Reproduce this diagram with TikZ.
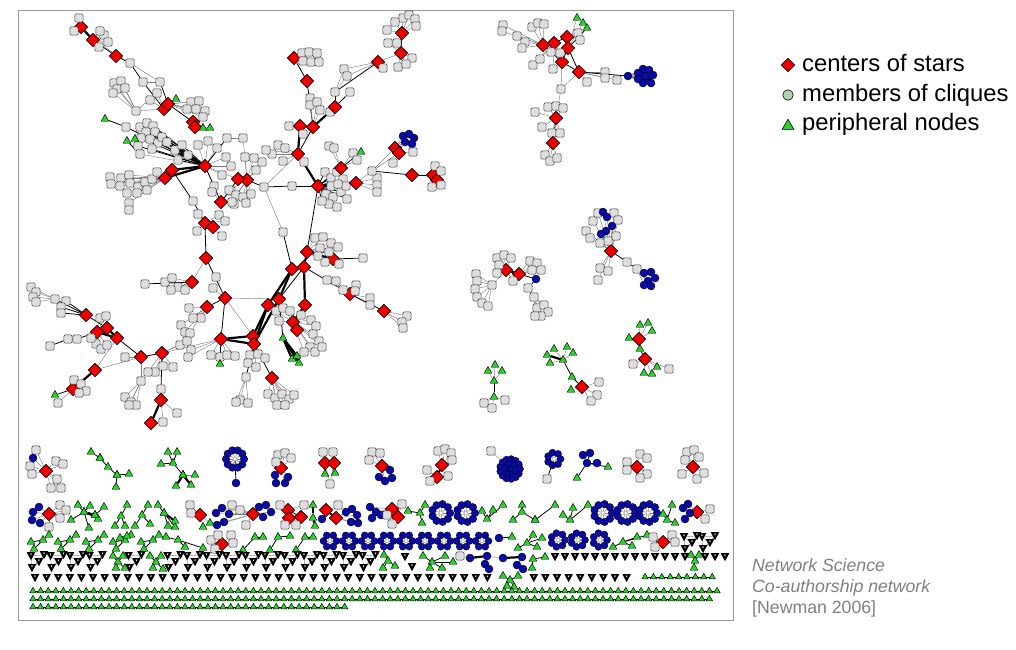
\documentclass[tikz,border=0pt]{standalone}
\usepackage{fontspec}
\setmainfont{Liberation Sans}
\usetikzlibrary{shapes.geometric,calc}
\pgfdeclarelayer{bg}\pgfsetlayers{bg,main}
\definecolor{nred}{RGB}{240,0,0}
\definecolor{nblue}{RGB}{10,10,170}
\definecolor{ngreen}{RGB}{40,210,40}
\definecolor{ngray}{RGB}{222,222,222}
\definecolor{lgreen}{RGB}{176,212,176}
\definecolor{capgray}{RGB}{128,128,128}
\newcounter{vc}
\tikzset{
 sq/.style={rectangle,rounded corners=1.3pt,draw=black!75,fill=ngray,line width=0.55pt,minimum size=8.2pt,inner sep=0},
 dia/.style={diamond,draw=black,fill=nred,line width=0.55pt,minimum size=13.5pt,inner sep=0},
 cl/.style={circle,draw=black,fill=nblue,line width=0.4pt,minimum size=8pt,inner sep=0},
 tri/.style={regular polygon,regular polygon sides=3,draw=black,fill=ngreen,line width=0.45pt,minimum size=9pt,inner sep=0},
 stri/.style={tri,minimum size=7.4pt},
 ge/.style={draw=black!50,line width=0.45pt},
 be/.style={draw=black,line width=0.8pt},
 te/.style={draw=black,line width=2.2pt},
}
\newcommand\edgelist{}
\newcommand\AddE[3]{\xdef\edgelist{\unexpanded\expandafter{\edgelist}\noexpand\draw[#1] (#2) -- (#3);}}
\newcommand\Nd[4][sq]{\node[#1] (#2) at (#3,#4) {};}
\newcommand\Hub[3]{\node[dia] (#1) at (#2,#3) {};}
\newcommand\Ed[3][be]{\AddE{#1}{#2}{#3}}
\newcommand\Fx[4]{\foreach \px/\py in {#4}{\stepcounter{vc}\node[#1] (v\arabic{vc}) at (\px,\py) {};\AddE{#2}{#3}{v\arabic{vc}}}}
\newcommand\Fl[3][sq]{\Fx{#1}{ge}{#2}{#3}}
\newcommand\Fb[3][sq]{\Fx{#1}{be}{#2}{#3}}
\newcommand\Ft[3][sq]{\Fx{#1}{te}{#2}{#3}}
\newcommand\Sg[3][tri]{\foreach \px/\py [count=\k] in {#3}{\stepcounter{vc}\node[#1] (v\arabic{vc}) at (\px,\py) {};\ifnum\k=1 \xdef\hubn{v\arabic{vc}}\else\AddE{#2}{\hubn}{v\arabic{vc}}\fi}}
\newcommand\Rng[6]{\node[circle,draw=black!45,fill=white,minimum size=4pt,inner sep=0] (#1) at (#2,#3) {};
 \foreach \k in {1,...,#4}{\stepcounter{vc}\node[cl,minimum size=#6pt] (v\arabic{vc}) at ($(#1)+({360/#4*\k}:#5)$) {};\AddE{ge}{#1}{v\arabic{vc}}}}
\newcommand\Dsk[3]{\coordinate (#1) at (#2,#3);
 \foreach \k in {1,...,13}{\stepcounter{vc}\node[cl,minimum size=7pt] (v\arabic{vc}) at ($(#1)+({360/13*\k}:10)$) {};}
 \foreach \k in {1,...,6}{\stepcounter{vc}\node[cl,minimum size=7pt] (v\arabic{vc}) at ($(#1)+({360/6*\k+15}:4.8)$) {};}
 \node[cl,minimum size=6pt] (#1c) at (#1) {};}
\newcommand\Vgl[2]{\fill (#1-4.3,#2-3.9) -- (#1+4.3,#2-3.9) -- (#1,#2+4.2) -- cycle;
 \fill[white] (#1-0.9,#2-2.4) -- (#1+0.9,#2-2.4) -- (#1,#2-0.7) -- cycle;}
\newcommand\Vcl[2]{\draw[black!55,line width=0.35pt] (#1,#2) -- (#1+8,#2+6) -- (#1+1,#2+12) (#1+13,#2-1) -- (#1+8,#2+6) (#1,#2) -- (#1+13,#2-1) -- (#1+1,#2+12) (#1,#2) -- (#1+1,#2+12);
 \Vgl{#1}{#2}\Vgl{#1+13}{#2-1}\Vgl{#1+8}{#2+6}\Vgl{#1+1}{#2+12}}
\newcommand\TGr[2]{\Sg[tri]{be}{#1+12/#2, #1/#2+2, #1+3/#2+9, #1+18/#2-5}}
\newcommand\lgfont{\fontsize{23.8}{28}\selectfont}
\newcommand\capfont{\fontsize{17.7}{21}\selectfont}
\begin{document}
\begin{tikzpicture}[x=1pt,y=-1pt]
\useasboundingbox (0,0) rectangle (1016,649);
\draw[black!40,line width=1pt] (18,10) rectangle (733,620);
% ---------------- legend and caption
\node[dia,minimum size=13.5pt] (L1) at (788,65) {};
\node[circle,draw=black,fill=lgreen,minimum size=10.5pt,inner sep=0,line width=0.6pt] (L2) at (788,95) {};
\node[tri,minimum size=13.5pt,line width=0.6pt] (L3) at (788,126) {};
\node[anchor=base west,font=\lgfont,inner sep=0] (L1t) at (802,71) {centers of stars};
\node[anchor=base west,font=\lgfont,inner sep=0] (L2t) at (802,101) {members of cliques};
\node[anchor=base west,font=\lgfont,inner sep=0] (L3t) at (802,130) {peripheral nodes};
\node[anchor=base west,font=\capfont\itshape,text=capgray,inner sep=0] (C1t) at (752,571) {Network Science};
\node[anchor=base west,font=\capfont\itshape,text=capgray,inner sep=0] (C2t) at (752,592) {Co-authorship network};
\node[anchor=base west,font=\capfont,text=capgray,inner sep=0] (C3t) at (752,613) {[Newman 2006]};
% ---------------- main component: upper left
\Hub{A1}{81}{27}\Hub{A2}{93}{40}\Hub{A3}{116}{56}
\Fl{A1}{79/18,74/31}
\Fl{A2}{99/47,104/35,108/42,100/31}
\Nd{P1}{130}{63}\Nd{P2}{143}{82}\Nd{P3}{160}{82}\Nd{P4}{157}{93}\Nd{P5}{150}{100}
\Ed[te]{A1}{A2}\Ed{A2}{A3}\Ed{A3}{P1}\Ed[ge]{A2}{P1}\Ed{P1}{P2}\Ed[ge]{P1}{P3}\Ed[ge]{P2}{P3}
\Hub{A4}{164}{109}\Hub{A4b}{168}{104}
\Ed{P2}{A4}\Ed{P3}{A4b}\Ed[ge]{P4}{A4}\Ed[ge]{P5}{A4}
\Nd[tri]{T1}{176}{99}\Ed{A4b}{T1}
\Hub{A5}{193}{122}\Hub{A5b}{195}{127}
\Ed{A4b}{A5}\Ed[te]{A5}{A5b}
\Fl{A4b}{191/102,199/101,196/109,205/111,187/109,203/117}
\Nd[tri]{T2}{203}{128}\Nd[tri]{T3}{210}{128}\Ed{A5b}{T2}\Ed[ge]{A5b}{T3}
\Nd{H1}{136}{111}\Fl{H1}{114/83,121/81,117/89,125/88,113/93}\Ed[ge]{H1}{A4}\Ed[ge]{H1}{P4}
\Nd[tri]{T4}{105}{119}\Nd{H2}{126}{127}\Ed{T4}{H2}
\Hub{A6}{205}{166}
\Fb{A6}{140/127,147/123,153/126,146/132,155/132,141/138,150/139,158/143,138/146,152/149,162/137,167/142,175/150,182/145,188/155,178/160}
\Ed{H2}{A6}
\Nd[tri]{T5}{127}{141}\Nd[tri]{T6}{135}{139}\Nd{H3}{140}{154}\Ed{T5}{H3}\Ed{T6}{H3}\Ed[ge]{H3}{A6}
\Hub{A7}{172}{170}\Hub{A8}{165}{178}
\Ed[te]{A7}{A6}\Ed[te]{A8}{A6}\Ed[te]{A8}{A7}
\Fl{A8}{110/177,111/184,121/178,120/186,129/175,130/183,138/187,145/182,152/179,157/172,127/193,137/193,147/190}
\Nd{P6}{129}{203}\Nd{P7}{129}{210}\Ed[ge]{A8}{P6}\Ed{P6}{P7}
\Fl{A6}{198/145,208/141,217/148,226/157,231/166,222/175,214/186}
\Hub{A9}{221}{202}\Ed{A6}{A9}\Fl{A9}{212/192,231/191,234/204}
\Nd{Q1}{193}{201}\Hub{A10}{205}{223}\Hub{A10b}{213}{227}
\Ed{A7}{Q1}\Ed{Q1}{A10}\Ed[te]{A10}{A10b}
\Fl{A10}{198/214,219/215,225/221,222/236,197/231}
\Nd{Q3}{227}{138}\Nd{Q4}{243}{138}\Ed{A6}{Q3}\Ed[ge]{Q3}{Q4}
% ---------------- main component: upper centre
\Hub{B10}{247}{180}\Hub{B10b}{238}{179}
\Ed[te]{B10}{B10b}\Ed{A9}{B10b}\Ed[ge]{A6}{B10b}\Ed[ge]{Q4}{B10}
\Fl{B10}{229/190,236/195,243/197,251/194,232/202,246/203,256/170,262/162,254/158,245/157}
\Nd{J}{264}{187}\Nd{J2}{292}{186}
\Ed{B10}{J}\Ed{J}{J2}
\Hub{B9}{298}{154}\Hub{B8}{300}{126}\Hub{B7}{313}{127}
\Fl{B9}{278/145,272/154,285/148,304/162,283/161,266/150}
\Ed[ge]{J}{B9}
\Hub{B11}{318}{186}
\Ed{J2}{B11}\Ed[te]{B9}{B11}\Ed[te]{B8}{B9}\Ed{B7}{B9}\Ed[te]{B7}{B8}
\Fl{B8}{289/126,303/134}
\Fb{B11}{325/172,331/178,337/172,343/179,326/194,333/197,341/192,347/199,329/204,337/207,322/201,346/186}
\Ft{B11}{331/186,338/184}
\Hub{B12}{341}{168}\Ed{B11}{B12}\Nd[tri]{T7}{361}{152}\Ed{B12}{T7}\Fl{B12}{353/153,357/160,329/146,334/148}
\Hub{B13}{356}{183}\Ed[te]{B11}{B13}\Fl{B13}{377/178,377/185,377/192}
\Nd{S1}{372}{171}\Ed[ge]{B13}{S1}\Hub{B14}{412}{175}\Ed{S1}{B14}
\Hub{B15}{433}{175}\Hub{B15b}{437}{180}\Ed{B14}{B15}\Ed[te]{B15}{B15b}
\Fl{B15}{435/166,441/171,441/185,432/187}
\Hub{B16}{395}{148}\Hub{B16b}{399}{153}\Ed[te]{B16}{B16b}
\Fl[cl]{B16}{403/136,409/134,414/138,412/144,405/142}\Fl{B16b}{413/152,393/163}
\Ed[ge]{S1}{B16}\Ed[ge]{S1}{B16b}
\Hub{B4}{294}{58}\Fl{B4}{302/53,309/52,317/53,303/61,311/62,319/62}
\Hub{B5}{307}{81}\Ed{B4}{B5}\Ed{B5}{B7}
\Fl{B7}{310/98,310/105,317/102,320/110,330/112}
\Hub{B6}{335}{107}\Ed[te]{B7}{B6}\Nd{R3}{335}{92}\Nd{R4}{350}{92}\Ed{B6}{R3}\Ed{B6}{R4}
\Nd{R5}{344}{69}\Nd{R6}{347}{76}
\Hub{B3}{378}{62}\Ed[ge]{R3}{R5}\Ed[ge]{R3}{R6}\Ed[ge]{R5}{B3}\Ed[ge]{R6}{B3}\Ed{R3}{B3}
\Fl{B3}{383/68}
\Hub{B2}{401}{53}\Hub{B1}{402}{33}\Ed{B1}{B2}\Ed[ge]{B3}{B2}
\Fl{B2}{388/43,397/43,398/67,412/58,406/64}
\Fl{B1}{387/30,403/18,409/15,415/19,416/26,395/22}
% ---------------- main component: lower right
\Nd{Q5}{283}{232}\Ed[ge]{J}{Q5}
\Hub{D1}{307}{252}\Hub{D2}{292}{269}\Hub{D3}{304}{267}\Hub{D4}{333}{259}
\Ed{B11}{D1}\Ed{Q5}{D2}\Ed[te]{D1}{D3}\Ed[te]{D1}{D4}\Ed{D2}{D3}
\Fl{D1}{315/238,323/237,331/243,338/247,320/248,329/252,339/264,325/262,318/256}
\Nd{D4a}{363}{258}\Ed{D4}{D4a}
\Hub{D7}{268}{305}\Hub{D8}{279}{299}\Hub{D9}{305}{305}\Hub{D10}{293}{322}\Hub{D11}{297}{330}
\Ed[te]{D2}{D7}\Ed[te]{D2}{D8}\Ed[te]{D3}{D9}\Ed[te]{D9}{D10}\Ed[te]{D10}{D11}\Ed{D3}{D8}
\Fl{D10}{276/311,283/308,290/311,279/321,301/315,311/320,316/326,313/334,319/341,310/347,304/352,315/352,322/347}
\Hub{D5}{350}{294}\Ed{D3}{D5}\Fl{D5}{327/280,336/281,343/290,356/285,355/291,370/298,370/305}
\Hub{D6}{384}{311}\Ed{D5}{D6}\Fl{D6}{407/316,402/322,403/328}
\Hub{D12}{253}{336}\Hub{D13}{254}{344}
\Ed[te]{D7}{D12}\Ed[te]{D8}{D13}\Ed[te]{D7}{D13}
\Fl{D13}{250/355,258/354,265/358,248/363,256/367}
\Nd[tri]{T8}{283}{338}\Ed{D8}{T8}\Ft[tri]{T8}{292/359,297/356,299/363}
\Nd{Q6}{246}{377}\Ed{D13}{Q6}\Fl{Q6}{240/400,248/403,236/402}
\Hub{D14}{272}{378}\Ed{D13}{D14}\Fl{D14}{268/394,275/398,282/394,289/399,294/395,277/405,285/405}
% ---------------- main component: lower left
\Hub{C1}{206}{258}\Ed{A10}{C1}
\Hub{C2}{192}{282}\Hub{C3}{225}{298}\Hub{C4}{207}{307}
\Ed{C1}{C3}\Ed[ge]{C1}{C2}\Ed{C3}{C4}
\Fl{C2}{165/282,172/278,178/287,185/290,171/290}
\Nd{C2a}{145}{284}\Ed{C2a}{C2}
\Fl{C4}{189/308,201/318,193/318,181/325,185/332,190/333}
\Fl{C3}{213/288,216/277}
\Hub{C5}{221}{339}\Ed{C3}{C5}\Ed[ge]{C3}{D12}\Ed[ge]{C3}{D8}
\Ed[te]{C5}{D13}\Ed[te]{C5}{D12}
\Fl{C5}{211/355,220/357,227/355,235/356,191/350,188/357}
\Nd[tri]{T9}{220}{364}\Ed{C5}{T9}
\Hub{C6}{162}{353}\Hub{C7}{141}{357}\Ed[ge]{C5}{C6}\Ed{C6}{C7}
\Fl{C6}{173/367,163/366,155/372,148/372,180/345,187/341}
\Nd{C6a}{161}{389}\Ed{C6}{C6a}
\Hub{C14}{161}{400}\Hub{C15}{151}{423}\Ed{C6a}{C14}\Ed[te]{C14}{C15}\Fl{C14}{177/413,163/422}
\Hub{C8}{117}{338}\Hub{C9}{107}{328}\Hub{C10}{97}{332}
\Ed{C7}{C8}\Ed[te]{C9}{C8}\Ed[te]{C10}{C8}
\Fl{C10}{100/318,106/316,96/344,101/349,91/338,107/345}
\Hub{C11}{86}{315}\Ed{C11}{C9}
\Nd{C11a}{55}{299}\Fb{C11}{66/301,61/307,61/313}\Ed{C11}{C11a}
\Fl{C11a}{31/287,36/292,33/297,36/302}
\Nd{C10a}{77}{339}\Nd{C10b}{68}{339}\Nd{C10c}{50}{346}\Ed{C10}{C10a}\Ed[ge]{C10a}{C10b}\Ed{C10b}{C10c}
\Hub{C12}{95}{370}\Ed[ge]{C12}{C8}\Ed[ge]{C12}{C7}
\Hub{C13}{73}{389}\Ed[te]{C12}{C13}\Fb{C13}{74/380,81/384,86/391,79/393}
\Nd[tri]{T10}{55}{395}\Ed{C13}{T10}\Nd{C13a}{58}{403}\Ed[ge]{C13}{C13a}
\Nd{C7a}{141}{381}\Ed[ge]{C7}{C7a}\Fl{C7a}{125/397,131/402,136/405,129/405}
\Nd{C7b}{125}{357}\Ed[ge]{C7}{C7b}
% ---------------- top right component
\Hub{K1}{543}{45}\Hub{K4}{554}{43}\Hub{K2}{567}{37}\Hub{K3}{568}{48}\Hub{K5}{562}{62}\Hub{K6}{579}{72}
\Ed[te]{K1}{K4}\Ed{K4}{K2}\Ed{K2}{K3}\Ed{K3}{K5}\Ed{K5}{K6}\Ed{K1}{K5}\Ed{K3}{K6}
\Nd[tri]{KT1}{577}{18}\Nd[tri]{KT2}{583}{23}\Nd[tri]{KT3}{587}{28}\Ed[ge]{K3}{KT1}\Ed[ge]{K3}{KT2}\Ed{K3}{KT3}
\Fl{K1}{503/25,502/31,517/36,525/42,522/48,532/27,538/23,544/24}
\Fl{K4}{533/65,540/59,553/69,560/53,551/52}
\Fl{K2}{578/33,580/40}
\Fl{K6}{605/72,605/78,617/80,587/82}
\Nd[cl]{KB}{628}{76}\Ed{K6}{KB}
\Fl[cl]{KB}{638/73,643/69,649/70,653/75,648/80,643/83,638/79,645/76,651/83}
\Nd{K7}{561}{89}\Ed[ge]{K5}{K7}\Ed[ge]{K6}{K7}
\Hub{K8}{556}{118}\Ed[ge]{K7}{K8}\Fl{K8}{535/112,548/107,556/106,563/108,542/127,552/133,560/133}
\Hub{K9}{553}{143}\Ed{K8}{K9}\Fl{K9}{545/155,550/161,557/158}
% ---------------- right middle components
\Hub{M1}{506}{270}\Hub{M2}{519}{274}\Ed[te]{M1}{M2}
\Fl{M1}{497/258,504/255,511/258,499/265,497/273,513/281}
\Fl{M2}{530/261,537/263,541/270,532/270}
\Nd[cl]{MB}{536}{279}\Ed{M2}{MB}
\Nd{M3}{492}{285}\Ed[ge]{M1}{M3}\Fl{M3}{476/274,477/281,475/289,477/297,482/303,488/306}
\Nd{M4}{528}{288}\Nd{M5}{534}{297}\Ed{MB}{M4}\Ed{M4}{M5}
\Fl{M5}{537/308,544/305,548/312,541/316,535/316}
\Hub{N1}{611}{251}
\Fl{N1}{586/231,590/238,593/221,598/213,614/213,618/220,616/236,608/241,600/243}
\Fl[cl]{N1}{603/212,607/217,612/226,606/231,601/234}
\Fl{N1}{600/268,608/271,598/280}
\Nd{N2}{627}{262}\Nd{N3}{637}{269}\Ed{N1}{N2}\Ed{N2}{N3}
\Fl[cl]{N3}{644/273,651/272,655/278,648/281,644/285,651/286}
\Nd[tri]{O1}{494}{381}\Fl[tri]{O1}{488/371,495/365,502/371}\Nd[tri]{O2}{494}{397}\Ed{O1}{O2}
\Fl{O2}{484/403,492/408,505/400}
\Nd[tri]{U1}{563}{360}\Fl[tri]{U1}{554/349,550/363,567/347,573/353}\Nd[tri]{U0}{547}{355}\Ed[te]{U1}{U0}
\Nd[tri]{U2}{572}{377}\Ed{U1}{U2}\Hub{U3}{582}{387}\Ed{U2}{U3}
\Fl[tri]{U3}{571/390}\Fl{U3}{599/382,597/395,591/401}
\Hub{V1}{639}{339}\Fl[tri]{V1}{640/325,648/323,652/331,629/338}\Nd[tri]{Vt}{640}{349}
\Hub{V2}{645}{359}\Ed{V1}{Vt}\Ed{Vt}{V2}\Fl{V2}{633/364,669/369}\Fl[tri]{V2}{657/367,644/373,652/374}
% ---------------- row 1
\Hub{E1}{46}{471}\Fl{E1}{36/450,30/466,32/474,56/461,63/464,57/479,51/488,61/488}\Fl[cl]{E1}{33/458}
\Sg[tri]{be}{108/467,100/458,117/475}\Sg[tri]{be}{100/458,91/452}\Sg[tri]{be}{117/475,129/474,116/487}
\Sg[tri]{be}{173/463,168/452,177/452,161/464,183/475}\Sg[tri]{te}{183/475,176/486,191/485}\Sg[tri]{ge}{183/475,195/475}
\Rng{E3}{235}{459}{10}{9}{7.5}\Nd[cl]{E3s}{236}{483}\Ed{E3}{E3s}
\Hub{E4}{281}{468}\Fl{E4}{278/455,285/453,291/458,276/462}\Fl[cl]{E4}{275/475,276/483,285/483,288/477}
\Hub{E5}{325}{463}\Hub{E5b}{334}{463}\Fl{E5}{323/452}\Fl{E5b}{333/452}\Fl[tri]{E5}{325/474}\Fl[tri]{E5b}{335/473}
\Nd{E5c}{330}{484}\Ed[ge]{E5c}{E5}\Ed[ge]{E5c}{E5b}
\Hub{E6}{382}{466}\Fl{E6}{372/452,380/453,369/460}\Fl[cl]{E6}{390/470,392/478,385/481,379/477}
\Hub{E7}{442}{465}\Hub{E7b}{437}{477}\Ed[te]{E7}{E7b}\Fl{E7}{438/451,445/449,451/453,452/460}\Fl{E7b}{427/470,430/481,448/476}
\Dsk{E8}{510}{469}\Nd{E8a}{491}{451}\Ed[ge]{E8}{E8a}
\Rng{E9}{554}{459}{7}{6.5}{7}\Nd{E9a}{547}{479}\Ed{E9}{E9a}
\Nd[cl]{E10}{587}{463}\Fb[cl]{E10}{583/455,590/453,597/463}\Nd[tri]{E10t}{608}{467}\Nd[tri]{E10u}{577}{478}\Ed{E10}{E10t}\Ed{E10}{E10u}
\Hub{E11}{637}{467}\Fl{E11}{640/454,647/458,627/462,627/470,647/474,640/478}
\Hub{E12}{693}{467}\Fl{E12}{687/452,694/450,699/457,685/460,682/474,697/479,704/473}
% ---------------- row 2
\Hub{F1}{49}{514}\Fl[cl]{F1}{33/512,39/507,32/520,40/523}\Fl{F1}{60/505,66/510,60/518,49/527}
\Sg[tri]{be}{84/512,71/520,78/505,90/506,98/519,89/528}\Sg[tri]{te}{84/512,95/515}\Sg[tri]{be}{95/515,104/507}
\Sg[tri]{be}{121/516,115/526,127/505,125/526}
\Sg[tri]{be}{142/515,135/526,148/505,150/524}
\Sg[tri]{be}{164/513,158/505,168/526,175/527}\Sg[tri]{te}{164/513,175/521}
\Hub{F2}{200}{515}\Fl{F2}{190/505,191/513}\Fl[tri]{F2}{203/527,210/523}
\Hub{F3}{253}{514}\Fl[cl]{F3}{216/513,222/508,229/514,224/522,217/525}\Fl{F3}{232/505,246/525,240/510}\Fl[cl]{F3}{259/507,266/505,271/512,263/517}
\Hub{F4}{288}{510}\Hub{F4b}{289}{518}\Hub{F4c}{301}{517}\Ed{F4}{F4c}\Ed[te]{F4}{F4b}
\Fl{F4}{280/505,304/505}\Fl{F4b}{285/525,296/525}
\Sg[tri]{te}{313/518,313/505,315/526}
\Hub{F5}{326}{510}\Hub{F5b}{336}{518}\Ed[te]{F5}{F5b}\Fl{F5b}{338/505}\Fl[cl]{F5}{322/519}\Fl[cl]{F5b}{346/512,352/509,357/515,351/522,358/523}
\Hub{F6}{392}{509}\Hub{F6b}{398}{517}\Ed[te]{F6}{F6b}\Fl[cl]{F6}{370/507,376/512,372/518,381/515}\Fl{F6b}{402/504,387/515,392/524}
\Sg[tri]{be}{420/513,408/511,425/505,422/523}
\Rng{F7}{441}{513}{9}{9}{7.5}\Rng{F8}{466}{513}{9}{9}{7.5}
\Sg[tri]{be}{487/519,482/511,493/510,503/505}
\Sg[tri]{be}{522/512,513/520,522/505,535/520}\Sg[tri]{be}{535/520,555/505}
\Sg[tri]{be}{570/520,563/515,573/508,588/505}
\Rng{F9}{603}{513}{9}{9}{7.5}\Rng{F10}{626}{513}{9}{9}{7.5}\Rng{F11}{648}{513}{9}{9}{7.5}
\Sg[tri]{be}{667/520,663/514,672/505,675/523}
\Hub{F12}{697}{512}\Fl[cl]{F12}{683/508,688/504,690/513,685/519}\Fl{F12}{710/509,705/519}
% ---------------- row 3
\foreach \xx in {31,58,86,113,141}{\TGr{\xx}{540}}
\Sg[tri]{be}{178/540,166/537,185/547,203/548}\Sg[tri]{te}{120/538,127/536}
\Hub{H1r}{222}{544}\Fl{H1r}{211/540,218/535,231/535,233/543,215/549}
\Sg[tri]{be}{255/537,243/550,263/537}\Sg[tri]{be}{278/537,270/550,290/536}\Sg[tri]{be}{305/537,296/550,313/537}
\foreach \xx [count=\j] in {330,349,368,387,406,425,444,463,482}{\Rng{bf\j}{\xx}{541}{6}{6.5}{7}}
\Nd[cl]{BF}{499}{538}\Nd[tri]{BFt}{512}{537}\Ed{BF}{BFt}
\Sg[tri]{be}{527/543,518/548,533/535,537/547,542/538}
\Rng{H2r}{558}{540}{7}{7}{7}\Rng{H3r}{578}{540}{7}{7}{7}\Rng{H4r}{600}{540}{7}{7}{7}
\Sg[tri]{be}{623/542,613/547,632/546,637/537,647/535}
\Hub{H5r}{663}{542}\Fl{H5r}{653/537,655/547,672/535,675/542}
\Vcl{684}{537}\Vcl{702}{537}
% ---------------- row 4
\foreach \k in {0,...,17}{\pgfmathsetmacro\xx{31+19.5*\k}
 \ifnum\k=4 \Sg[tri]{be}{118/562,113/556,123/556,116/568,125/568}\else
 \ifnum\k=6 \Sg[tri]{be}{156/562,150/556,161/556,153/568,163/569}\else
 \Vcl{\xx}{556}\fi\fi}
\Sg[tri]{be}{388/561,384/555,383/568,395/566}
\Vgl{405}{557}\Vgl{412}{567}
\Sg[tri]{be}{432/562,423/556,445/556,430/568,442/568,453/562}
\Nd{W1}{460}{556}\Nd[cl]{W2}{470}{558}\Ed[ge]{W1}{W2}\Nd[cl]{W3}{487}{556}\Ed[te]{W2}{W3}
\Nd[cl]{W4}{485}{564}\Nd[cl]{W5}{489}{569}\Ed{W3}{W4}\Ed{W4}{W5}
\Nd[cl]{W6}{503}{558}\Ed[ge]{W3}{W6}\Nd[cl]{W7}{522}{557}\Ed[te]{W6}{W7}
\Nd[cl]{W8}{517}{565}\Nd[cl]{W9}{523}{569}\Ed{W7}{W8}\Ed{W8}{W9}
\Sg[tri]{be}{533/559,532/568,545/557}
\foreach \k in {0,...,17}{\pgfmathsetmacro\xx{555+10*\k}\pgfmathtruncatemacro\sk{(\xx>688)&&(\xx<702)}
 \ifnum\sk=0 \Vgl{\xx}{557}\fi}
\Sg[tri]{be}{695/561,691/555,699/555,694/568}
% ---------------- row 5
\foreach \k in {0,...,51}{\pgfmathsetmacro\xx{35+11.6*\k}\pgfmathtruncatemacro\sk{(\xx>499)&&(\xx<523)}
 \ifnum\sk=0 \Vgl{\xx}{578}\fi}
\Sg[tri]{be}{510/580,503/576,518/576,507/586,514/587}
\foreach \k in {0,...,8}{\node[stri] (g5-\k) at (645+8.4*\k,577) {};}
\Ed{g5-0}{g5-8}
% ---------------- rows 6-8
\foreach \k in {0,...,90}{\node[stri] (ra-\k) at (33+7.6*\k,591) {};}
\foreach \k in {0,...,89}{\node[stri] (rb-\k) at (33+7.6*\k,599) {};}
\foreach \k in {0,...,41}{\node[stri] (rc-\k) at (33+7.6*\k,607) {};}
\Ed{ra-0}{ra-90}\Ed{rb-0}{rb-89}\Ed{rc-0}{rc-41}
% ---------------- all connectors, behind the nodes
\begin{pgfonlayer}{bg}\edgelist\end{pgfonlayer}
\end{tikzpicture}
\end{document}
